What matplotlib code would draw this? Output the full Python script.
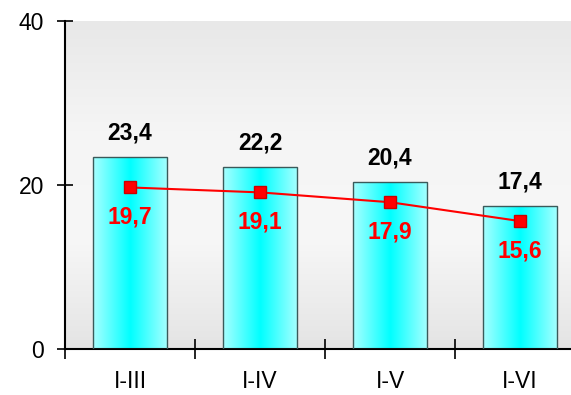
import numpy as np
import matplotlib.pyplot as plt
from matplotlib.colors import LinearSegmentedColormap

categories = ['I-III', 'I-IV', 'I-V', 'I-VI']
bar_values = [23.4, 22.2, 20.4, 17.4]
line_values = [19.7, 19.1, 17.9, 15.6]
yticks = [0, 20, 40]

W, H = 571, 395
fig = plt.figure(figsize=(W / 100, H / 100), dpi=100)
plt.rcParams['font.family'] = ['Liberation Sans', 'DejaVu Sans']

# axes: x-axis at y=349 px, top at y=21 px; right side runs past the figure
ax = fig.add_axes([65 / W, (H - 349) / H, 520 / W, (349 - 21) / H])

# grey vertical gradient background
bg = LinearSegmentedColormap.from_list('bg', ['#e4e4e4', '#f7f7f7', '#f5f5f5', '#e8e8e8'])
grad = np.linspace(1, 0, 256).reshape(-1, 1)
ax.imshow(grad, cmap=bg, aspect='auto', extent=[-0.5, 3.5, 0, 40], zorder=0)

# bars with horizontal cyan gradient
bar_cmap = LinearSegmentedColormap.from_list('cy', ['#a8ffff', '#00ffff', '#a8ffff'])
x = np.arange(len(categories))
width = 0.57
bars = ax.bar(x, bar_values, width, facecolor='none', edgecolor='#3a5a5a', linewidth=1.0, zorder=3)
hgrad = np.linspace(0, 1, 256).reshape(1, -1)
for b in bars:
    im = ax.imshow(hgrad, cmap=bar_cmap, aspect='auto',
                   extent=[b.get_x(), b.get_x() + b.get_width(), 0, b.get_height()], zorder=2)
    im.set_clip_path(b)
ax.set_xlim(-0.5, 3.5)
ax.set_ylim(0, 40)

ax.plot(x, line_values, color='#ff0000', linewidth=1.5, marker='s', markersize=9,
        markerfacecolor='#ff0000', markeredgecolor='#cc0000', zorder=4)

for xi, v in zip(x, bar_values):
    ax.annotate(f'{v:.1f}'.replace('.', ','), (xi, v), xytext=(0, 9), textcoords='offset points',
                ha='center', va='bottom', fontsize=16.5, fontweight='bold', color='black')
for xi, v in zip(x, line_values):
    ax.annotate(f'{v:.1f}'.replace('.', ','), (xi, v), xytext=(0, -13), textcoords='offset points',
                ha='center', va='top', fontsize=16.5, fontweight='bold', color='#ff0000')

ax.spines['top'].set_visible(False)
ax.spines['right'].set_visible(False)
ax.spines['left'].set_linewidth(1.5)
ax.spines['bottom'].set_linewidth(1.5)

ax.set_yticks(yticks)
ax.tick_params(axis='y', direction='inout', length=12, width=1.2, labelsize=16.5, pad=9)
ax.set_xticks(x)
ax.set_xticklabels(categories)
ax.set_xticks(np.arange(-0.5, 4, 1), minor=True)
ax.tick_params(axis='x', which='major', length=0, labelsize=16.5, pad=15)
ax.tick_params(axis='x', which='minor', direction='inout', length=14, width=1.2)

fig.savefig('out.png', dpi=100)
